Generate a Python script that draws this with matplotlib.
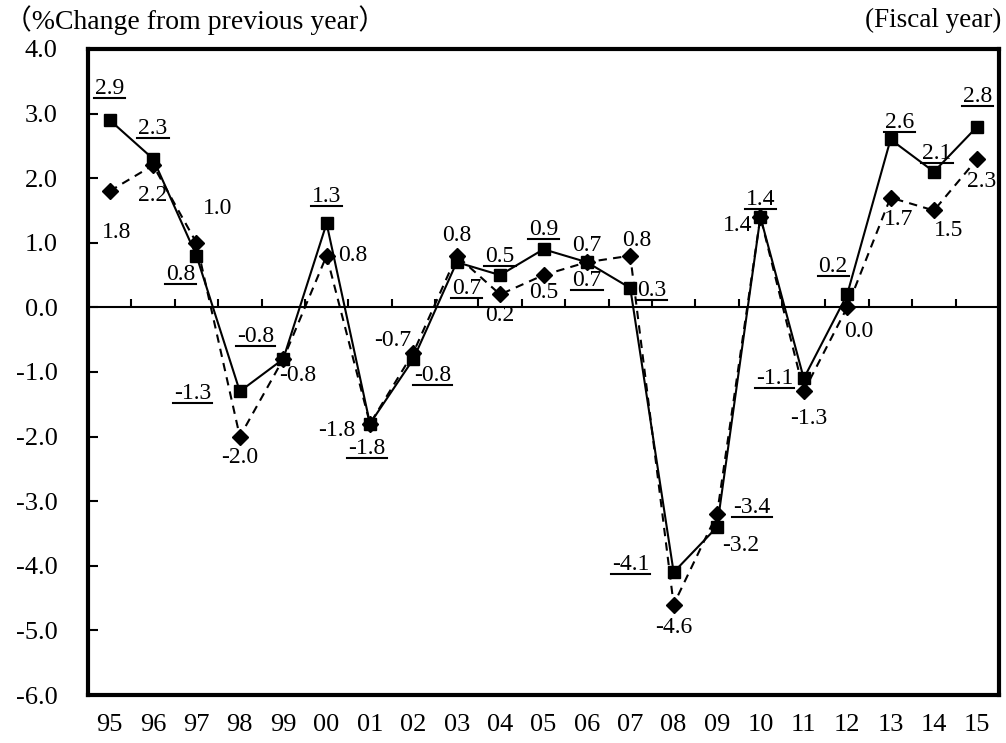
import numpy as np
import matplotlib
matplotlib.use("Agg")
import matplotlib.pyplot as plt
from matplotlib.lines import Line2D
from matplotlib.transforms import IdentityTransform

plt.rcParams["font.family"] = ["Liberation Serif", "Noto Sans CJK JP"]
plt.rcParams["axes.unicode_minus"] = False

years = ["95", "96", "97", "98", "99", "00", "01", "02", "03", "04", "05",
         "06", "07", "08", "09", "10", "11", "12", "13", "14", "15"]
# solid line, square markers, underlined labels
solid_vals = [2.9, 2.3, 0.8, -1.3, -0.8, 1.3, -1.8, -0.8, 0.7, 0.5, 0.9,
              0.7, 0.3, -4.1, -3.4, 1.4, -1.1, 0.2, 2.6, 2.1, 2.8]
# dashed line, diamond markers
dashed_vals = [1.8, 2.2, 1.0, -2.0, -0.8, 0.8, -1.8, -0.7, 0.8, 0.2, 0.5,
               0.7, 0.8, -4.6, -3.2, 1.4, -1.3, 0.0, 1.7, 1.5, 2.3]
y_ticks = [4.0, 3.0, 2.0, 1.0, 0.0, -1.0, -2.0, -3.0, -4.0, -5.0, -6.0]

# label offsets in pixels (dx, dy) from each marker
solid_off = [(0, 32), (0, 30), (-16, -19), (-47, -2), (-28, 23), (0, 27),
             (-3, -25), (19, -16), (10, -26), (0, 19), (0, 20), (0, -18),
             (21, -2), (-43, 8), (35, 20), (0, 17), (-29, 0), (-14, 28),
             (9, 17), (3, 18), (0, 30)]
dashed_off = [(7, -41), (0, -30), (21, 34), (0, -21), (14, -16), (26, 0),
              (-33, -7), (-21, 12), (0, 20), (0, -21), (0, -17), (0, 17),
              (6, 15), (0, -23), (24, -31), (-23, -9), (5, -27), (12, -24),
              (8, -22), (15, -20), (4, -23)]

fig = plt.figure(figsize=(10.06, 7.43), dpi=100)
ax = fig.add_axes([88 / 1006, 48 / 743, 911 / 1006, 646 / 743])

x = np.arange(len(years))
ax.axhline(0, color="black", lw=1.5, zorder=1)
# small upward ticks on the zero line between years
ax.plot(np.arange(1, len(years)) - 0.5, np.zeros(len(years) - 1), ls="none",
        marker=2, ms=6, mew=1.5, color="black", zorder=1)

ax.plot(x, dashed_vals, color="black", lw=1.5, dashes=(4, 3), marker="D",
        ms=8, zorder=2)
ax.plot(x, solid_vals, color="black", lw=1.5, marker="s", ms=8, zorder=3)

ax.set_xlim(-0.5, len(years) - 0.5)
ax.set_ylim(-6, 4)
ax.set_xticks(x)
ax.set_xticklabels(years, fontsize=19)
ax.tick_params(axis="x", length=0, pad=14)
ax.set_yticks(y_ticks)
ax.set_yticklabels([f"{v:.1f}" for v in y_ticks], fontsize=19)
ax.tick_params(axis="y", direction="in", length=7, width=1.5, pad=22)
for sp in ax.spines.values():
    sp.set_linewidth(3)

solid_txt = []
for i, v in enumerate(solid_vals):
    t = ax.annotate(f"{v:.1f}", (x[i], v), xytext=solid_off[i],
                    textcoords="offset pixels", ha="center", va="center",
                    fontsize=17)
    solid_txt.append(t)
for i, v in enumerate(dashed_vals):
    ax.annotate(f"{v:.1f}", (x[i], v), xytext=dashed_off[i],
                textcoords="offset pixels", ha="center", va="center",
                fontsize=17)

fig.text(4 / 1006, 1 - 20 / 743, "（%Change from previous year）", fontsize=20,
         ha="left", va="center")
fig.text(1001 / 1006, 1 - 20 / 743, "(Fiscal year)", fontsize=19.5,
         ha="right", va="center")
fig.text(0.507, 0.997, "Growth Rate", fontsize=20, ha="center", va="bottom")

# underline the solid-series labels
fig.canvas.draw()
r = fig.canvas.get_renderer()
for t in solid_txt:
    bb = t.get_window_extent(r)
    fig.add_artist(Line2D([bb.x0 - 1, bb.x1 + 1], [bb.y0 + 1, bb.y0 + 1],
                          transform=IdentityTransform(), color="black", lw=1.5))

fig.savefig("out.png", dpi=100)
